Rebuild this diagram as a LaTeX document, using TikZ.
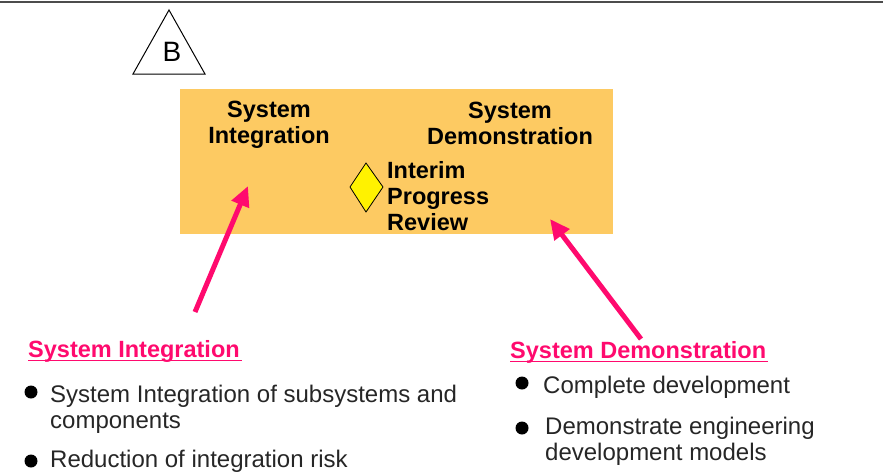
\documentclass[tikz,border=0pt]{standalone}
\usepackage{fontspec}
\setmainfont{Liberation Sans}
\usepackage{xcolor}
\definecolor{phaseorange}{RGB}{253,202,98}
\definecolor{hotpink}{RGB}{255,10,110}
\usetikzlibrary{arrows.meta}
\usetikzlibrary{positioning}

\begin{document}
\begin{tikzpicture}[x=1pt,y=-1pt,
	boxlabel/.style={font=\fontsize{23.5}{26}\selectfont\bfseries, align=center, inner sep=0pt},
	heading/.style={font=\fontsize{23.5}{26}\selectfont\bfseries, text=hotpink, anchor=base west, inner sep=0pt},
	item/.style={font=\fontsize{24}{25.5}\selectfont, text=black!85, align=left, anchor=base west, inner sep=0pt},
	pinkarrow/.style={-{Triangle[length=20pt,width=18pt]}, hotpink, line width=5pt}]
				\useasboundingbox (0,0) rectangle (883,471);
				
				%top rule
				\draw[line width=2pt, black!70] (0,2) -- (883,2);
				
				%triangle
				\draw[line width=1pt] (169,10) -- (205,74) -- (133,74) -- cycle;
				\node[font=\fontsize{28}{30}\selectfont, inner sep=0pt] (mark) at (172,52) {B};
				
				%phase box
				\fill[phaseorange] (180,89) rectangle (613,234);
				\node[boxlabel] (integ) at (269,125) {System\\Integration};
				\node[boxlabel] (demo) at (510,123) {System\\Demonstration};
				\draw[line width=0.8pt, fill=yellow] (350,187) -- (366,163) -- (383,187) -- (366,212) -- cycle;
				\node[item, font=\fontsize{23.5}{26}\selectfont\bfseries, text=black] (ipr) at (387,230) {Interim\\Progress\\Review};
				
				%draw arrow
				\coordinate (intTail) at (195,312);
				\coordinate (intTip) at (248,186);
				\coordinate (demoTail) at (641,339);
				\coordinate (demoTip) at (550,219);
				\draw[pinkarrow] (intTail) -- (intTip);
				\draw[pinkarrow] (demoTail) -- (demoTip);
				
				%headings
				\node[heading] (hInt) at (28,357) {System Integration};
				\draw[hotpink, line width=1.5pt] ([yshift=-3.5pt]hInt.base west) -- ([yshift=-3.5pt, xshift=2pt]hInt.base east);
				\node[heading] (hDemo) at (510,358) {System Demonstration};
				\draw[hotpink, line width=1.5pt] ([yshift=-3.5pt]hDemo.base west) -- ([yshift=-3.5pt, xshift=2pt]hDemo.base east);
				
				%bullets
				\fill (31,392) circle (6.5pt);
				\fill (31,461) circle (6.5pt);
				\fill (522,383) circle (6.5pt);
				\fill (522,428) circle (6.5pt);
				\node[item] (i1) at (50,428) {System Integration of subsystems and\\components};
				\node[item] (i2) at (50,467) {Reduction of integration risk};
				\node[item] (d1) at (543,393) {Complete development};
				\node[item] (d2) at (545,460) {Demonstrate engineering\\development models};
\end{tikzpicture}
\end{document}
